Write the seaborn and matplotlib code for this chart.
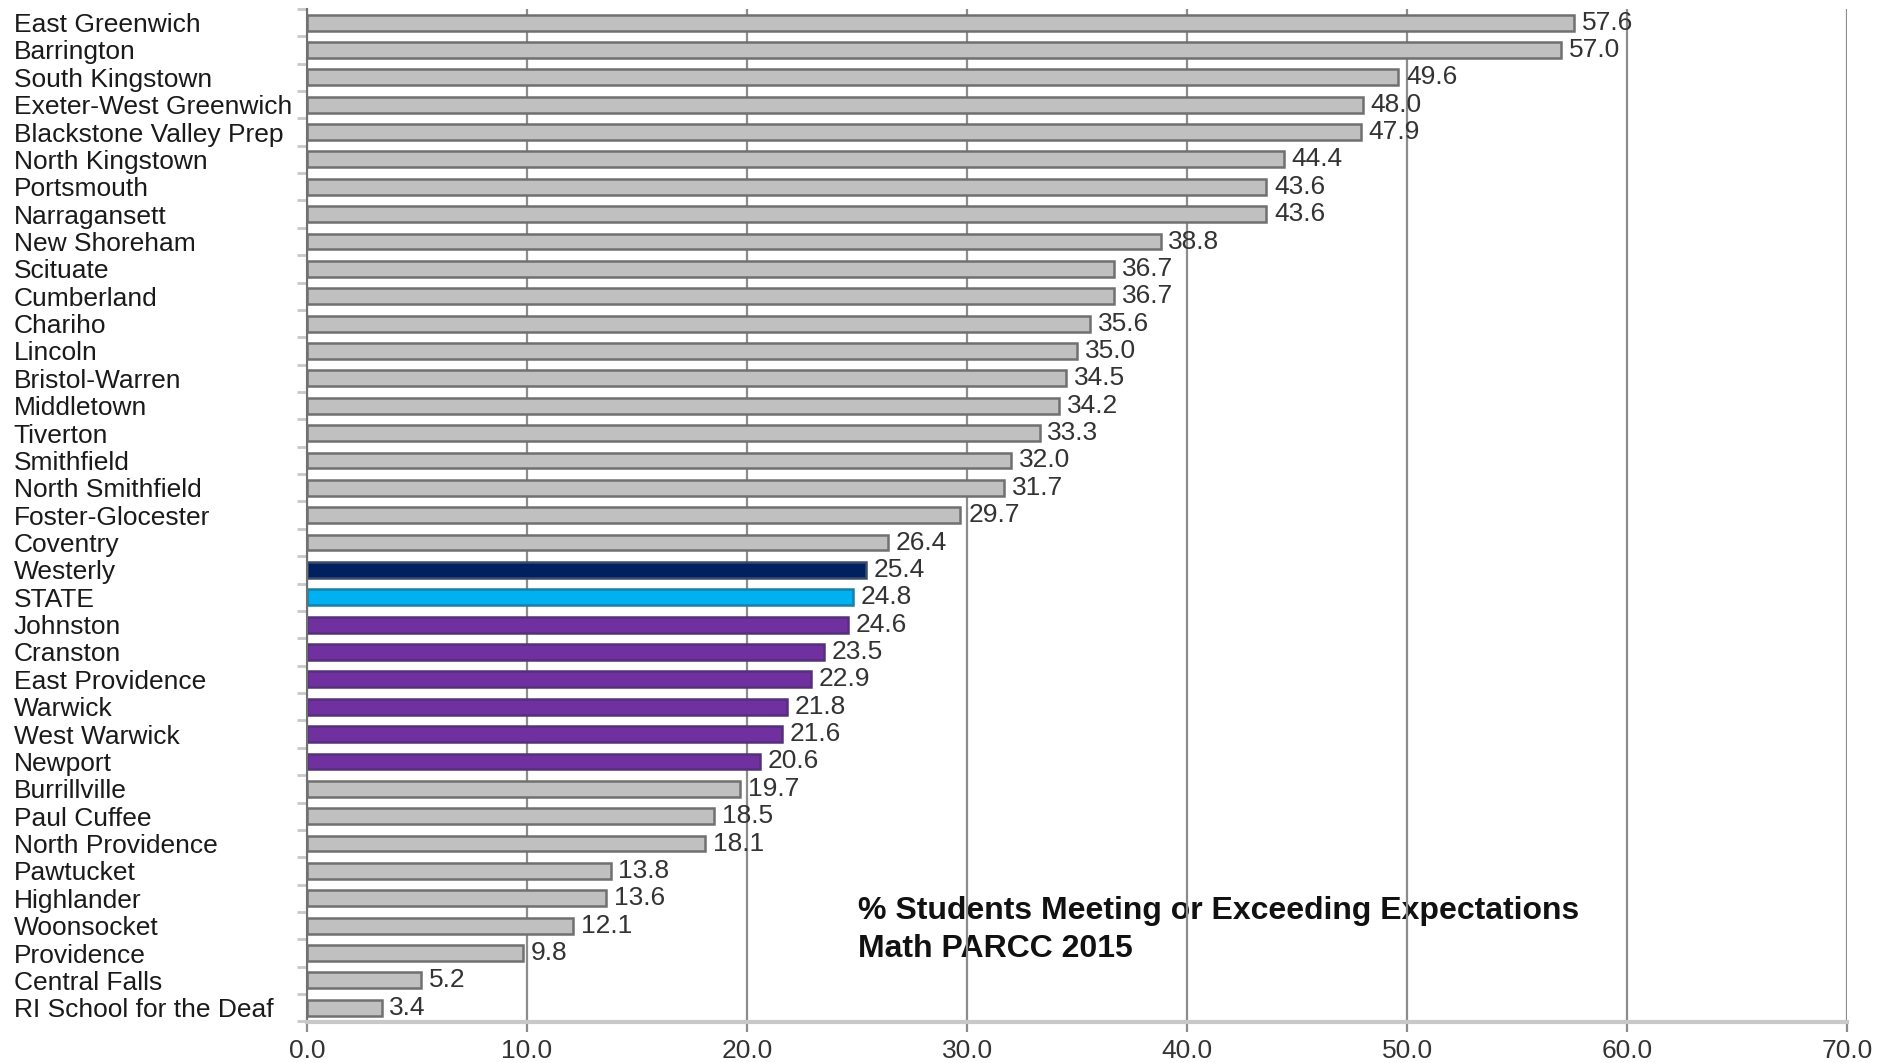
import numpy as np
import pandas as pd
import seaborn as sns
import matplotlib.pyplot as plt
from matplotlib.ticker import FixedLocator

districts = ['East Greenwich', 'Barrington', 'South Kingstown', 'Exeter-West Greenwich',
             'Blackstone Valley Prep', 'North Kingstown', 'Portsmouth', 'Narragansett',
             'New Shoreham', 'Scituate', 'Cumberland', 'Chariho', 'Lincoln', 'Bristol-Warren',
             'Middletown', 'Tiverton', 'Smithfield', 'North Smithfield', 'Foster-Glocester',
             'Coventry', 'Westerly', 'STATE', 'Johnston', 'Cranston', 'East Providence',
             'Warwick', 'West Warwick', 'Newport', 'Burrillville', 'Paul Cuffee',
             'North Providence', 'Pawtucket', 'Highlander', 'Woonsocket', 'Providence',
             'Central Falls', 'RI School for the Deaf']
pct_meeting = [57.6, 57.0, 49.6, 48.0, 47.9, 44.4, 43.6, 43.6, 38.8, 36.7, 36.7, 35.6,
               35.0, 34.5, 34.2, 33.3, 32.0, 31.7, 29.7, 26.4, 25.4, 24.8, 24.6, 23.5,
               22.9, 21.8, 21.6, 20.6, 19.7, 18.5, 18.1, 13.8, 13.6, 12.1, 9.8, 5.2, 3.4]
purple_group = ['Johnston', 'Cranston', 'East Providence', 'Warwick', 'West Warwick', 'Newport']
x_ticks = [0, 10, 20, 30, 40, 50, 60, 70]
title_lines = ['% Students Meeting or Exceeding Expectations', 'Math PARCC 2015']

# fill / edge colour for each bar
fills, edges = [], []
for d in districts:
    if d == 'Westerly':
        fills.append('#002060'); edges.append('#3a4a6a')
    elif d == 'STATE':
        fills.append('#00b0f0'); edges.append('#1a7fa8')
    elif d in purple_group:
        fills.append('#7030a0'); edges.append('#55307a')
    else:
        fills.append('#c0c0c0'); edges.append('#707070')

df = pd.DataFrame({'district': districts, 'pct': pct_meeting})

sns.set_style('white')
plt.rcParams['font.family'] = ['Liberation Sans', 'DejaVu Sans']

fig = plt.figure(figsize=(18.83, 10.63), dpi=100)
ax = fig.add_axes([0.163, 0.0386, 0.818, 0.953])

sns.barplot(data=df, x='pct', y='district', hue='district', palette=fills,
            saturation=1, legend=False, orient='h', width=0.58, ax=ax, zorder=2)
for patch, ec in zip(ax.patches, edges):
    patch.set_edgecolor(ec)
    patch.set_linewidth(1.8)

# value labels
for i, v in enumerate(pct_meeting):
    ax.text(v + 0.35, i, f'{v:.1f}', va='center', ha='left', fontsize=19,
            color='#333333', zorder=4)

ax.set_xlim(0, 70)
ax.set_ylim(36.52, -0.5)
ax.set_xlabel('')
ax.set_ylabel('')

ax.set_xticks(x_ticks)
ax.set_xticklabels([f'{t:.1f}' for t in x_ticks], fontsize=19, color='#333333')
ax.set_axisbelow(True)
ax.grid(axis='x', color='#8c8c8c', linewidth=1.6)
ax.grid(axis='y', visible=False)

# category labels left-aligned at the left edge of the figure
ax.set_yticks(range(len(districts)))
ax.set_yticklabels(districts, fontsize=19, color='#1a1a1a')
for lab in ax.get_yticklabels():
    lab.set_horizontalalignment('left')
ax.tick_params(axis='y', which='major', length=0, pad=211)
ax.yaxis.set_minor_locator(FixedLocator(np.arange(-0.5, len(districts), 1.0)))
ax.tick_params(axis='y', which='minor', length=7, width=2, color='#c8c8c8', left=True)
ax.tick_params(axis='x', which='major', length=7, width=1.6, color='#8c8c8c',
               bottom=True, pad=5)

sns.despine(ax=ax, top=True, right=True)
ax.spines['left'].set_color('#707070')
ax.spines['left'].set_linewidth(1.5)
ax.spines['bottom'].set_color('#c8c8c8')
ax.spines['bottom'].set_linewidth(3)

for k, line in enumerate(title_lines):
    ax.text(25.05, 32.45 + k * 1.42, line, fontsize=23, fontweight='bold',
            va='center', ha='left', color='#111111', zorder=0.4)

fig.savefig('out.png', dpi=100)
